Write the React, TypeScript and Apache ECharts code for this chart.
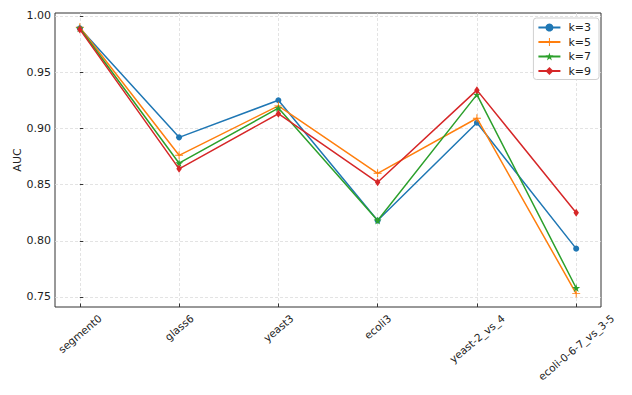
import React, { useEffect, useRef } from "react";
import * as echarts from "echarts";

const categories = ["segment0", "glass6", "yeast3", "ecoli3", "yeast-2_vs_4", "ecoli-0-6-7_vs_3-5"];
const seriesNames = ["k=3", "k=5", "k=7", "k=9"];
const k3 = [0.989, 0.892, 0.925, 0.818, 0.905, 0.793];
const k5 = [0.990, 0.876, 0.920, 0.860, 0.909, 0.753];
const k7 = [0.989, 0.869, 0.918, 0.818, 0.930, 0.758];
const k9 = [0.988, 0.864, 0.913, 0.852, 0.934, 0.825];
const yTicks = [0.75, 0.8, 0.85, 0.9, 0.95, 1.0];

const colors = ["#1f77b4", "#ff7f0e", "#2ca02c", "#d62728"];
const FONT = "DejaVu Sans";
const Y_MIN = 0.7411;
const Y_MAX = 1.0026;

const PLUS = "path://M-0.12,-1H0.12V-0.12H1V0.12H0.12V1H-0.12V0.12H-1V-0.12H-0.12Z";
const STAR =
  "path://M0,-1L0.225,-0.309L0.951,-0.309L0.363,0.118L0.588,0.809L0,0.382L-0.588,0.809L-0.363,0.118L-0.951,-0.309L-0.225,-0.309Z";

export default function App() {
  const ref = useRef<HTMLDivElement>(null);
  useEffect(() => {
    if (!ref.current) return;
    const chart = echarts.init(ref.current, null, { renderer: "svg" });
    const all = [k3, k5, k7, k9];
    const symbols: any[] = ["circle", PLUS, STAR, "diamond"];
    const sizes: any[] = [6, 8, 8, [5.5, 8]];
    const series = all.map((vals, si) => ({
      name: seriesNames[si],
      type: "line",
      data: vals.map((v, i) => [i, v]),
      symbol: symbols[si],
      symbolSize: sizes[si],
      showSymbol: true,
      lineStyle: { color: colors[si], width: 1.5 },
      itemStyle: { color: colors[si] },
      z: 2 + si,
    }));
    const tickIdx = categories.map((_, i) => i);
    chart.setOption({
      animation: false,
      grid: {
        left: 55,
        top: 13,
        right: 31,
        bottom: 88,
        show: true,
        borderColor: "#333",
        borderWidth: 1,
        backgroundColor: "transparent",
        containLabel: false,
        outerBoundsMode: "none",
      },
      legend: {
        orient: "vertical",
        right: 33,
        top: 18,
        itemWidth: 22,
        itemHeight: 10,
        itemGap: 3.5,
        padding: [4, 8, 3, 4],
        borderColor: "#d0d0d0",
        borderWidth: 1,
        borderRadius: 3,
        backgroundColor: "#fff",
        textStyle: { fontFamily: FONT, fontSize: 11, color: "#222", padding: [0, 0, 0, 3] },
        data: seriesNames,
      },
      xAxis: {
        type: "value",
        min: -0.25,
        max: 5.25,
        axisLine: { show: false },
        axisTick: {
          show: true,
          inside: true,
          length: 3.5,
          customValues: tickIdx,
          lineStyle: { color: "#333", width: 1 },
        },
        axisLabel: { show: false, customValues: tickIdx },
        splitLine: {
          show: true,
          lineStyle: { color: "#dcdcdc", type: [3, 2], width: 0.8 },
        },
      },
      yAxis: {
        type: "value",
        min: Y_MIN,
        max: Y_MAX,
        name: "AUC",
        nameLocation: "middle",
        nameGap: 32,
        nameMoveOverlap: false,
        nameTextStyle: { fontFamily: FONT, fontSize: 11, color: "#222" },
        axisLine: { show: false },
        axisTick: {
          show: true,
          inside: true,
          length: 3.5,
          customValues: yTicks,
          lineStyle: { color: "#333", width: 1 },
        },
        axisLabel: {
          customValues: yTicks,
          formatter: (v: number) => v.toFixed(2),
          fontFamily: FONT,
          fontSize: 11,
          color: "#222",
          margin: 4,
        },
        splitLine: {
          show: true,
          lineStyle: { color: "#dcdcdc", type: [3, 2], width: 0.8 },
        },
      },
      series,
    });

    // rotated category labels, centred under each tick (matplotlib style)
    const fontSize = 10.5;
    const rot = (40 * Math.PI) / 180;
    const canvas = document.createElement("canvas");
    const ctx = canvas.getContext("2d");
    if (ctx) ctx.font = `${fontSize}px "${FONT}"`;
    const axisY = chart.convertToPixel({ yAxisIndex: 0 }, Y_MIN) as number;
    const lineH = fontSize * 1.17;
    const pad = 5;
    const graphics = categories.map((name, i) => {
      const px = chart.convertToPixel({ xAxisIndex: 0 }, i) as number;
      const w = ctx ? ctx.measureText(name).width : name.length * 6;
      const H = w * Math.sin(rot) + lineH * Math.cos(rot);
      return {
        type: "text",
        x: px,
        y: axisY + pad + H / 2,
        rotation: rot,
        style: {
          text: name,
          fill: "#222",
          font: `${fontSize}px "${FONT}"`,
          align: "center",
          verticalAlign: "middle",
        },
      };
    });
    chart.setOption({ graphic: graphics });

    return () => chart.dispose();
  }, []);
  return (
    <div
      ref={ref}
      style={{ position: "fixed", left: 0, top: 0, width: 632, height: 395, background: "#fff" }}
    />
  );
}
